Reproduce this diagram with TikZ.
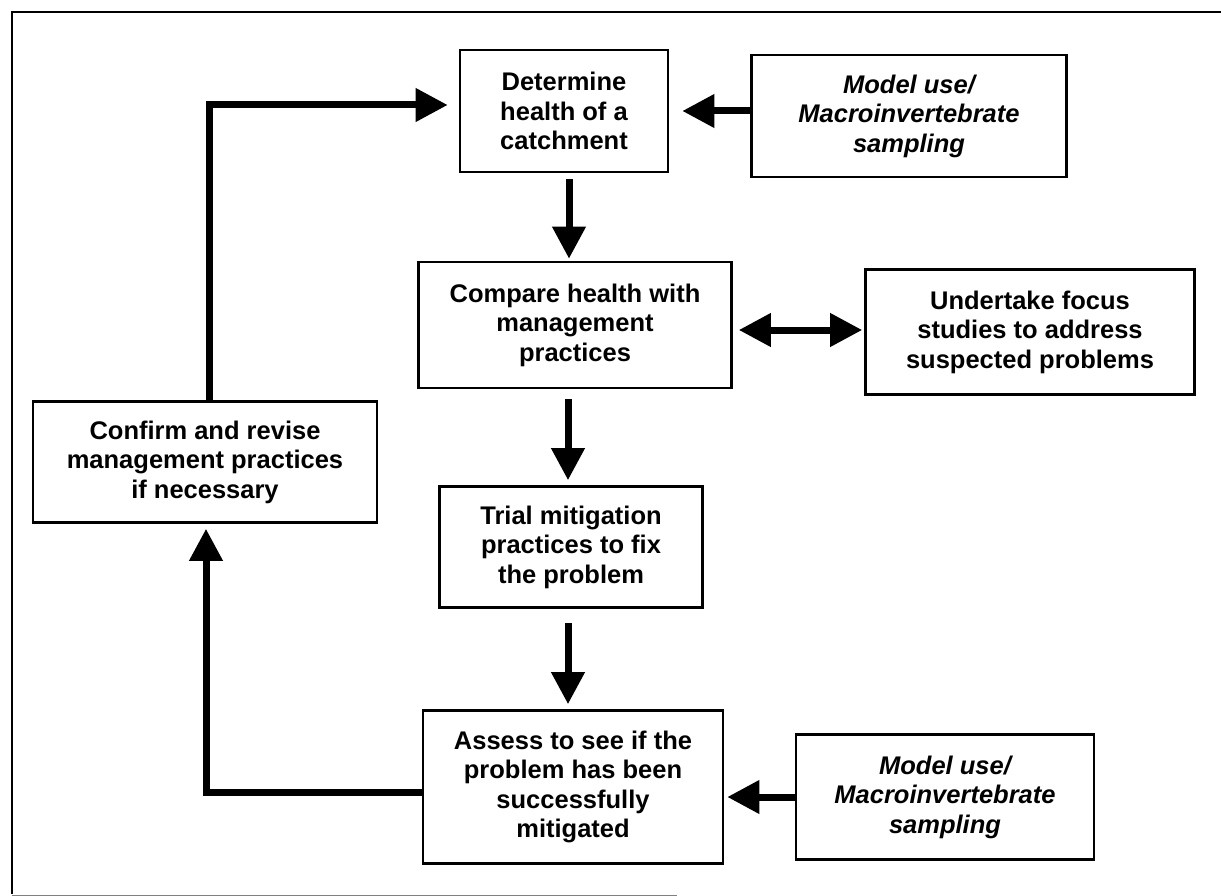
\documentclass[tikz,border=0pt]{standalone}
\usepackage{fontspec}
\setmainfont{Liberation Sans}
\usetikzlibrary{arrows.meta}

\begin{document}
\begin{tikzpicture}[x=1pt,y=-1pt,
    box/.style = {draw, line width=2.6pt, align=center, inner sep=0pt,
                  font=\fontsize{25.5}{29.5}\selectfont\bfseries},
    srcbox/.style = {box, font=\fontsize{25.5}{29.5}\selectfont\bfseries\itshape},
    arr/.style = {line width=7pt, -{Triangle[length=32pt,width=32pt]}},
    dblarr/.style = {line width=7pt, {Triangle[length=32pt,width=32pt]}-{Triangle[length=32pt,width=32pt]}}
    ]
    \useasboundingbox (0,0) rectangle (1221,896);
    % frame
    \draw[line width=2pt] (1221,12) -- (12,12) -- (12,894);
    \draw[line width=1pt, gray] (12,895) -- (677,895);

    \node[box, minimum width=208pt, minimum height=122pt] (det) at (564,111)
        {Determine\\health of a\\catchment};
    \node[srcbox, minimum width=315pt, minimum height=122pt] (modtop) at (909,116)
        {Model use/\\Macroinvertebrate\\sampling};
    \node[box, minimum width=313pt, minimum height=126pt] (comp) at (575,325)
        {Compare health with\\management\\practices};
    \node[box, minimum width=329pt, minimum height=125pt] (focus) at (1030,332)
        {Undertake focus\\studies to address\\suspected problems};
    \node[box, minimum width=344pt, minimum height=121pt] (confirm) at (205,462)
        {Confirm and revise\\management practices\\if necessary};
    \node[box, minimum width=263pt, minimum height=121pt] (trial) at (571,547)
        {Trial mitigation\\practices to fix\\the problem};
    \node[box, minimum width=300pt, minimum height=153pt] (assess) at (573,787)
        {Assess to see if the\\problem has been\\successfully\\mitigated};
    \node[srcbox, minimum width=298pt, minimum height=125pt] (modbot) at (945,797)
        {Model use/\\Macroinvertebrate\\sampling};

    \draw[arr, shorten >=13pt] (modtop.west |- det.east) -- (det.east);
    \draw[arr, shorten <=6pt, shorten >=2pt] ([xshift=5pt]det.south) -- ([xshift=5pt]det.south |- comp.north);
    \draw[dblarr, shorten <=6pt, shorten >=2pt] ([yshift=-5pt]comp.east) -- ([yshift=-5pt]comp.east -| focus.west);
    \draw[arr, shorten <=10pt, shorten >=5pt] ([xshift=-7pt]comp.south) -- ([xshift=-7pt]comp.south |- trial.north);
    \draw[arr, shorten <=14pt, shorten >=5pt] ([xshift=-3pt]trial.south) -- ([xshift=-3pt]trial.south |- assess.north);
    \draw[arr, shorten >=3pt] (modbot.west) -- (modbot.west -| assess.east);
    \draw[arr, shorten >=5pt] ([yshift=-5pt]assess.west) -| ([xshift=1pt]confirm.south);
    \draw[arr, shorten >=11pt] ([xshift=4pt]confirm.north) |- ([yshift=6pt]det.west);
\end{tikzpicture}
\end{document}
